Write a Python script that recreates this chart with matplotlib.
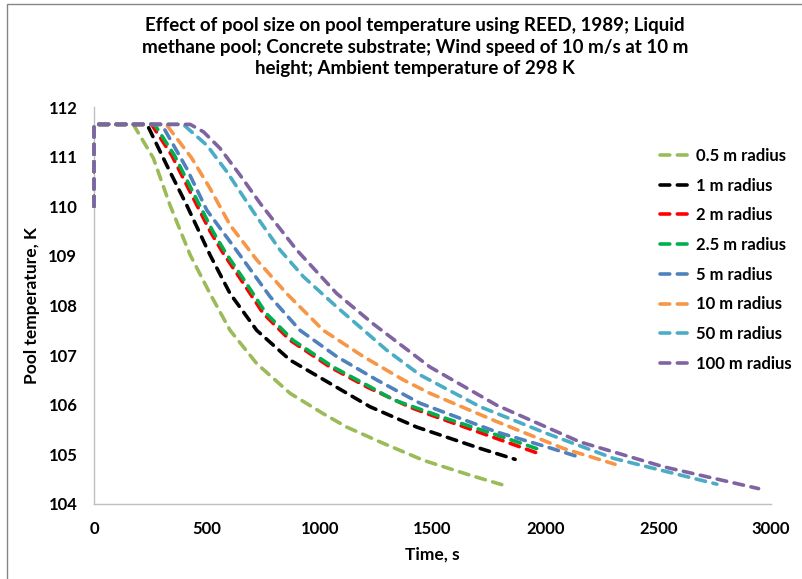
import matplotlib
matplotlib.use("Agg")
import matplotlib.pyplot as plt
from matplotlib.patches import Rectangle

plt.rcParams['font.family'] = ['Lato', 'DejaVu Sans']
plt.rcParams['font.weight'] = 'bold'

# datos (tiempo en s, temperatura en K)
t_05 = [0, 0, 174, 263, 337, 426, 514, 603, 721, 869, 1016, 1120, 1268, 1460, 1667, 1807]
T_05 = [110, 111.65, 111.65, 110.97, 110.02, 109.02, 108.24, 107.50, 106.83, 106.23, 105.82, 105.55,
        105.25, 104.88, 104.58, 104.39]

t_1 = [0, 0, 235, 322, 411, 514, 603, 721, 869, 1046, 1223, 1430, 1711, 1866]
T_1 = [110, 111.65, 111.65, 110.83, 110.02, 109.02, 108.24, 107.50, 106.90, 106.43, 105.96, 105.55,
       105.12, 104.90]

t_2 = [0, 0, 255, 344, 426, 514, 573, 647, 750, 869, 1046, 1209, 1401, 1489, 1741, 1962]
T_2 = [110, 111.65, 111.65, 111.03, 110.29, 109.50, 109.05, 108.55, 107.84, 107.30, 106.76, 106.36,
       105.95, 105.80, 105.39, 105.03]

t_25 = [0, 0, 268, 356, 438, 526, 585, 660, 763, 882, 1060, 1224, 1327, 1563, 1785, 1992]
T_25 = [110, 111.65, 111.65, 111.03, 110.29, 109.50, 109.05, 108.55, 107.84, 107.30, 106.76, 106.36,
        106.10, 105.72, 105.39, 105.07]

t_5 = [0, 0, 300, 411, 500, 633, 780, 913, 1076, 1253, 1445, 1785, 2007, 2154]
T_5 = [110, 111.65, 111.65, 110.76, 109.92, 109.10, 108.18, 107.50, 106.97, 106.50, 106.03, 105.45,
       105.15, 104.94]

t_10 = [0, 0, 320, 433, 514, 603, 721, 854, 1016, 1194, 1371, 1489, 1785, 2080, 2309]
T_10 = [110, 111.65, 111.65, 110.97, 110.36, 109.62, 108.92, 108.24, 107.50, 106.97, 106.50, 106.23,
        105.66, 105.12, 104.80]

t_50 = [0, 0, 395, 500, 588, 706, 824, 928, 1076, 1297, 1445, 1711, 2007, 2302, 2760]
T_50 = [110, 111.65, 111.65, 111.23, 110.70, 109.89, 109.12, 108.58, 107.97, 107.10, 106.60, 105.96,
        105.42, 104.92, 104.40]

t_100 = [0, 0, 426, 485, 558, 647, 736, 898, 1076, 1240, 1489, 1785, 2154, 2524, 2945]
T_100 = [110, 111.65, 111.65, 111.50, 111.17, 110.63, 110.06, 109.12, 108.24, 107.62, 106.76, 105.99,
         105.25, 104.75, 104.31]

etiquetas = ['0.5 m radius', '1 m radius', '2 m radius', '2.5 m radius',
             '5 m radius', '10 m radius', '50 m radius', '100 m radius']
colores = ['#9BBB59', '#000000', '#FF0000', '#00B050',
           '#4F81BD', '#F79646', '#4BACC6', '#8064A2']

series = [(t_05, T_05), (t_1, T_1), (t_2, T_2), (t_25, T_25),
          (t_5, T_5), (t_10, T_10), (t_50, T_50), (t_100, T_100)]


def generar_grafico():
    fig = plt.figure(figsize=(8.02, 5.79), dpi=100)
    ax = fig.add_axes([94 / 802, 75 / 579, 677 / 802, 397 / 579])

    for (t, T), lab, col in zip(series, etiquetas, colores):
        ax.plot(t, T, color=col, lw=2.6, linestyle=(0, (2.7, 2.1)),
                dash_capstyle='round', solid_joinstyle='round', label=lab,
                clip_on=False, zorder=3)

    ax.set_xlim(0, 3000)
    ax.set_ylim(104, 112)
    ax.set_xticks(range(0, 3001, 500))
    ax.set_yticks(range(104, 113))
    ax.tick_params(length=0, labelsize=12, pad=12)
    for s in ['top', 'right']:
        ax.spines[s].set_visible(False)
    for s in ['left', 'bottom']:
        ax.spines[s].set_color('#BFBFBF')
        ax.spines[s].set_linewidth(1)

    ax.set_xlabel('Time, s', fontsize=12.5, fontweight='bold', labelpad=7)
    ax.set_ylabel('Pool temperature, K', fontsize=12.5, fontweight='bold', labelpad=6)

    fig.text(415 / 802, 1 - 47 / 579,
             'Effect of pool size on pool temperature using REED, 1989; Liquid\n'
             'methane pool; Concrete substrate; Wind speed of 10 m/s at 10 m\n'
             'height; Ambient temperature of 298 K',
             ha='center', va='center', fontsize=13.5, fontweight='bold', linespacing=1.32)

    ax.legend(loc='upper left', bbox_to_anchor=(660 / 802, 1 - 148 / 579),
              bbox_transform=fig.transFigure, frameon=False, fontsize=12,
              handlelength=1.8, handletextpad=0.35, labelspacing=0.82,
              borderaxespad=0, borderpad=0)

    fig.add_artist(Rectangle((7 / 802, -0.1), 1.2, 1.1 - 4 / 579, transform=fig.transFigure,
                             fill=False, edgecolor='#868686', lw=1))

    fig.savefig('out.png', dpi=100)
    plt.close(fig)


if __name__ == "__main__":
    generar_grafico()
